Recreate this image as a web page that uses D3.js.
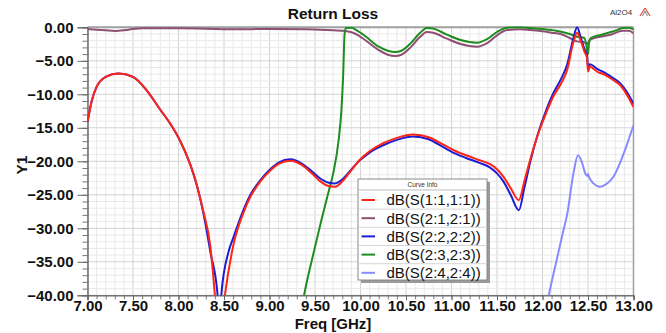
<!DOCTYPE html>
<html>
<head>
<meta charset="utf-8">
<script src="https://cdn.jsdelivr.net/npm/d3@7"></script>
<style>
  body { margin: 0; background: #fff; }
  svg { display: block; font-family: Arial, "Liberation Sans", sans-serif; }
</style>
</head>
<body>
<div id="chart"></div>
<script>
// ---- data (freq GHz, dB) ----
const s11 = [
  [7.00, -14.1], [7.05, -10.8], [7.10, -8.9], [7.20, -7.4], [7.34, -6.9], [7.50, -7.4],
  [7.65, -9.4], [7.80, -12.3], [7.91, -14.4], [8.02, -17.0], [8.13, -20.5], [8.20, -23.5],
  [8.27, -27.3], [8.35, -32.7], [8.40, -40.0], [8.445, -48.0], [8.51, -40.0], [8.60, -32.7],
  [8.71, -27.8], [8.79, -25.3], [8.90, -23.0], [9.00, -21.5], [9.10, -20.4], [9.23, -19.9],
  [9.35, -20.5], [9.45, -21.6], [9.55, -22.9], [9.65, -23.7], [9.72, -23.8], [9.80, -23.0],
  [9.90, -21.3], [9.99, -19.8], [10.10, -18.5], [10.25, -17.3], [10.40, -16.5], [10.58, -16.0],
  [10.75, -16.4], [10.91, -17.5], [11.05, -18.5], [11.16, -19.1], [11.30, -19.8], [11.42, -20.4],
  [11.50, -21.2], [11.57, -22.3], [11.65, -24.0], [11.74, -25.8], [11.80, -23.0], [11.87, -19.5],
  [11.95, -16.0], [12.04, -12.8], [12.12, -10.3], [12.20, -8.5], [12.27, -6.4], [12.34, -2.2],
  [12.38, -0.8], [12.42, -2.0], [12.46, -3.6], [12.49, -4.6], [12.50, -6.6], [12.52, -5.9],
  [12.60, -6.6], [12.70, -7.2], [12.78, -7.9], [12.85, -8.6], [12.92, -9.9], [13.00, -11.9]
];
const s21 = [
  [7.00, -0.25], [7.20, -0.45], [7.30, -0.55], [7.45, -0.35], [7.60, -0.15], [8.00, -0.15],
  [8.30, -0.2], [8.60, -0.3], [9.00, -0.25], [9.40, -0.3], [9.70, -0.45], [9.85, -0.6],
  [9.95, -1.0], [10.05, -1.9], [10.20, -3.4], [10.30, -4.1], [10.38, -4.3], [10.45, -4.1],
  [10.55, -3.0], [10.65, -1.5], [10.73, -0.7], [10.80, -0.8], [10.95, -1.7], [11.10, -2.5],
  [11.28, -2.9], [11.40, -2.3], [11.50, -1.2], [11.61, -0.4], [11.75, -0.3], [11.86, -0.4],
  [12.00, -0.6], [12.10, -0.8], [12.20, -1.0], [12.30, -1.6], [12.38, -2.1], [12.45, -2.2],
  [12.49, -2.5], [12.52, -1.9], [12.60, -1.5], [12.75, -1.1], [12.88, -0.5], [12.95, -0.5],
  [13.00, -0.9]
];
const s22 = [
  [7.00, -14.1], [7.05, -10.8], [7.10, -8.9], [7.20, -7.4], [7.34, -6.9], [7.50, -7.4],
  [7.65, -9.4], [7.80, -12.3], [7.91, -14.4], [8.02, -17.0], [8.13, -20.5], [8.20, -23.5],
  [8.27, -27.5], [8.35, -33.5], [8.43, -40.0], [8.45, -48.0], [8.47, -40.0], [8.55, -33.5],
  [8.60, -31.5], [8.71, -27.4], [8.79, -25.0], [8.90, -22.8], [9.00, -21.3], [9.10, -20.2],
  [9.23, -19.7], [9.35, -20.3], [9.45, -21.3], [9.55, -22.5], [9.65, -23.2], [9.72, -23.3],
  [9.80, -22.7], [9.90, -21.2], [9.99, -19.9], [10.10, -18.7], [10.25, -17.6], [10.40, -16.8],
  [10.58, -16.3], [10.75, -16.7], [10.91, -17.9], [11.05, -18.9], [11.16, -19.5], [11.30, -20.2],
  [11.42, -20.9], [11.50, -21.8], [11.57, -23.0], [11.65, -25.0], [11.74, -27.3], [11.80, -24.0],
  [11.87, -19.8], [11.95, -15.9], [12.04, -12.4], [12.12, -9.8], [12.20, -7.8], [12.27, -5.6],
  [12.34, -1.6], [12.38, 0.0], [12.42, -1.5], [12.46, -3.2], [12.49, -4.2], [12.50, -6.0],
  [12.52, -5.5], [12.60, -6.2], [12.70, -6.9], [12.78, -7.6], [12.85, -8.3], [12.92, -9.5],
  [13.00, -11.4]
];
const s33 = [
  [9.36, -41.5], [9.38, -40.0], [9.50, -32.8], [9.57, -28.8], [9.65, -24.5], [9.70, -21.8],
  [9.76, -16.8], [9.79, -12.4], [9.81, -7.0], [9.825, -1.0], [9.84, -0.1], [9.90, -0.05],
  [9.95, -0.4], [10.05, -1.3], [10.20, -2.9], [10.30, -3.5], [10.38, -3.7], [10.45, -3.5],
  [10.55, -2.4], [10.65, -0.9], [10.73, -0.1], [10.80, -0.2], [10.95, -1.1], [11.10, -1.9],
  [11.28, -2.3], [11.40, -1.7], [11.50, -0.7], [11.61, -0.05], [11.75, 0.0], [11.86, -0.1],
  [12.00, -0.25], [12.15, -0.5], [12.30, -1.0], [12.38, -1.4], [12.46, -1.6], [12.48, -2.5],
  [12.50, -4.0], [12.51, -2.5], [12.53, -1.6], [12.65, -1.1], [12.80, -0.5], [12.88, -0.1],
  [12.95, -0.05], [13.00, -0.3]
];
const s44 = [
  [12.05, -41.5], [12.07, -40.0], [12.16, -34.5], [12.23, -30.3], [12.27, -28.0], [12.34, -21.8],
  [12.39, -19.1], [12.43, -20.0], [12.47, -21.8], [12.49, -22.2], [12.50, -21.9], [12.51, -22.3],
  [12.56, -23.3], [12.63, -23.8], [12.70, -23.4], [12.78, -22.3], [12.85, -20.3], [12.92, -17.8],
  [13.00, -14.6]
];

const seriesNames = ["dB(S(1:1,1:1))", "dB(S(2:1,2:1))", "dB(S(2:2,2:2))", "dB(S(2:3,2:3))", "dB(S(2:4,2:4))"];
const seriesData = [s11, s21, s22, s33, s44];
const drawOrder = [1, 3, 4, 2, 0];

const xTicks = [7, 7.5, 8, 8.5, 9, 9.5, 10, 10.5, 11, 11.5, 12, 12.5, 13];
const yTicks = [0, -5, -10, -15, -20, -25, -30, -35, -40];

// ---- layout / styles ----
const W = 666, H = 333;
const PLOT = { LEFT: 87.5, RIGHT: 633.5, TOP: 27.3, BOTTOM: 295.3 };
const COLORS = ["#ff2414", "#8d4f73", "#1c1cd2", "#1e8c1e", "#8a8aff"];

const svg = d3.select("#chart").append("svg")
  .attr("width", W).attr("height", H);

const x = d3.scaleLinear().domain([7, 13]).range([PLOT.LEFT, PLOT.RIGHT]);
const y = d3.scaleLinear().domain([-40, 0]).range([PLOT.BOTTOM, PLOT.TOP]);

// grid (minor every 0.1 GHz / 1 dB, major on labelled ticks)
const minorX = d3.range(70, 131).map(d => d / 10);
const minorY = d3.range(-40, 1);
const grid = svg.append("g").attr("class", "grid");
grid.selectAll(".gx").data(minorX).enter().append("line")
  .attr("x1", d => x(d)).attr("x2", d => x(d))
  .attr("y1", PLOT.TOP).attr("y2", PLOT.BOTTOM)
  .attr("stroke", d => Math.abs(d * 2 - Math.round(d * 2)) < 1e-6 ? "#d2d2d2" : "#e9e9e9")
  .attr("stroke-width", 1);
grid.selectAll(".gy").data(minorY).enter().append("line")
  .attr("x1", PLOT.LEFT).attr("x2", PLOT.RIGHT)
  .attr("y1", d => y(d)).attr("y2", d => y(d))
  .attr("stroke", d => d % 5 === 0 ? "#d2d2d2" : "#e9e9e9")
  .attr("stroke-width", 1);

// frame (top + right)
svg.append("line").attr("x1", PLOT.LEFT).attr("x2", PLOT.RIGHT)
  .attr("y1", PLOT.TOP).attr("y2", PLOT.TOP).attr("stroke", "#a0a0a0").attr("stroke-width", 2);
svg.append("line").attr("x1", PLOT.RIGHT).attr("x2", PLOT.RIGHT)
  .attr("y1", PLOT.TOP).attr("y2", PLOT.BOTTOM).attr("stroke", "#a0a0a0").attr("stroke-width", 1.5);

// axes
const fmt = d3.format(".2f");
svg.append("g").attr("transform", `translate(${PLOT.LEFT},0)`)
  .call(d3.axisLeft(y).tickValues(minorY).tickSize(5).tickFormat(""))
  .call(g => g.selectAll("line,path").attr("stroke", "#777"));
svg.append("g").attr("transform", `translate(0,${PLOT.BOTTOM})`)
  .call(d3.axisBottom(x).tickValues(minorX).tickSize(4).tickFormat(""))
  .call(g => g.selectAll("line,path").attr("stroke", "#777"));

svg.append("g").attr("transform", `translate(${PLOT.LEFT},0)`)
  .call(d3.axisLeft(y).tickValues(yTicks).tickSize(10).tickPadding(4).tickFormat(fmt))
  .call(g => g.selectAll("line,path").attr("stroke", "#666"))
  .call(g => g.selectAll("text").attr("fill", "#111")
    .style("font-size", "15px").style("font-weight", "bold"));
svg.append("g").attr("transform", `translate(0,${PLOT.BOTTOM})`)
  .call(d3.axisBottom(x).tickValues(xTicks).tickSize(5).tickPadding(0).tickFormat(fmt))
  .call(g => g.selectAll("line,path").attr("stroke", "#666"))
  .call(g => g.selectAll("text").attr("fill", "#111")
    .style("font-size", "15px").style("font-weight", "bold"));

// curves
svg.append("clipPath").attr("id", "plotClip").append("rect")
  .attr("x", PLOT.LEFT).attr("y", PLOT.TOP - 1)
  .attr("width", PLOT.RIGHT - PLOT.LEFT).attr("height", PLOT.BOTTOM - PLOT.TOP + 1);

const line = d3.line().curve(d3.curveMonotoneX)
  .x(d => x(d[0])).y(d => y(d[1]));

svg.append("g").attr("clip-path", "url(#plotClip)")
  .selectAll("path").data(drawOrder).enter().append("path")
  .attr("d", i => line(seriesData[i]))
  .attr("fill", "none")
  .attr("stroke", i => COLORS[i])
  .attr("stroke-width", 2)
  .attr("stroke-linejoin", "round");

// titles
svg.append("text").attr("x", 333).attr("y", 18.5).attr("text-anchor", "middle")
  .style("font-size", "15.5px").style("font-weight", "bold").attr("fill", "#111")
  .text("Return Loss");
svg.append("text").attr("x", 333).attr("y", 328.5).attr("text-anchor", "middle")
  .style("font-size", "15px").style("font-weight", "bold").attr("fill", "#111")
  .text("Freq [GHz]");
svg.append("text").attr("transform", "translate(27,165) rotate(-90)").attr("text-anchor", "middle")
  .style("font-size", "15.5px").style("font-weight", "bold").attr("fill", "#111")
  .text("Y1");
svg.append("text").attr("x", 610).attr("y", 15).style("font-size", "8px").attr("fill", "#333")
  .text("Al2O4");

// little logo top right
const logo = svg.append("g").attr("transform", "translate(645,8)");
[[-5, 8, 0, 0], [0, 0, 5, 8], [-2.5, 8, 0, 3], [0, 3, 2.5, 8]].forEach((s, i) => {
  logo.append("line").attr("x1", s[0]).attr("y1", s[1]).attr("x2", s[2]).attr("y2", s[3])
    .attr("stroke", i < 2 ? "#d9534f" : "#999").attr("stroke-width", 1.3);
});

// legend
const LEG = { X: 358, Y: 179, W: 129, H: 101, ROW: 18.2, FIRST: 200 };
const legend = svg.append("g").attr("class", "legend");
legend.append("rect").attr("x", LEG.X + 3).attr("y", LEG.Y + 3)
  .attr("width", LEG.W).attr("height", LEG.H).attr("fill", "#9a9a9a");
legend.append("rect").attr("x", LEG.X).attr("y", LEG.Y)
  .attr("width", LEG.W).attr("height", LEG.H).attr("fill", "#fff")
  .attr("stroke", "#8a8a8a").attr("stroke-width", 1);
legend.append("text").attr("x", LEG.X + LEG.W / 2).attr("y", LEG.Y + 8)
  .attr("text-anchor", "middle").style("font-size", "6.5px").attr("fill", "#333")
  .text("Curve Info");
legend.append("line").attr("x1", LEG.X).attr("x2", LEG.X + LEG.W)
  .attr("y1", LEG.Y + 11).attr("y2", LEG.Y + 11).attr("stroke", "#bbb");

const rows = legend.selectAll(".row").data(seriesNames).enter().append("g")
  .attr("class", "row")
  .attr("transform", (d, i) => `translate(0,${LEG.FIRST + i * LEG.ROW})`);
rows.filter((d, i) => i > 0).append("line")
  .attr("x1", LEG.X).attr("x2", LEG.X + LEG.W)
  .attr("y1", -LEG.ROW / 2).attr("y2", -LEG.ROW / 2).attr("stroke", "#d5d5d5");
rows.append("line").attr("x1", 361.5).attr("x2", 375)
  .attr("y1", 0).attr("y2", 0)
  .attr("stroke", (d, i) => COLORS[i]).attr("stroke-width", 2);
rows.append("text").attr("x", 386.5).attr("y", 0).attr("dy", "0.36em")
  .style("font-size", "15px").attr("fill", "#111")
  .text(d => d);
</script>
</body>
</html>
